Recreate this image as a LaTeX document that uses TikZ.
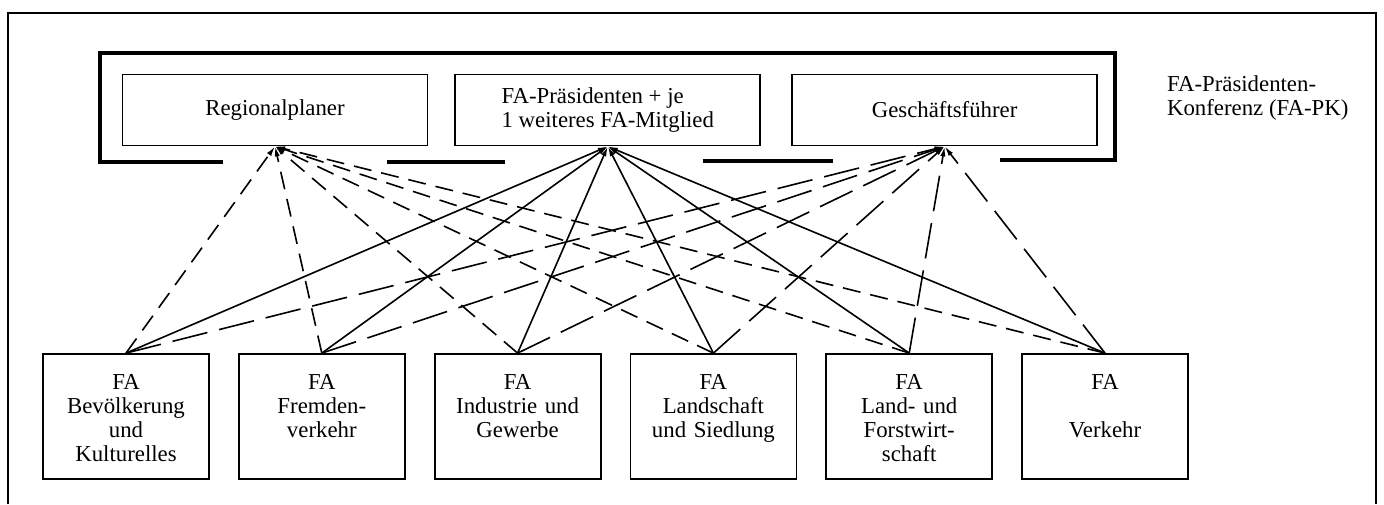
\documentclass[tikz,border=0pt]{standalone}
\usepackage{fontspec}
\setmainfont{Liberation Serif}
\usepackage{tikz}
\usetikzlibrary{positioning,arrows.meta}
\def\fagap{14pt}
\def\txt{\fontsize{11.4}{12}\selectfont}
\tikzstyle{pkbox} = [draw, line width=0.9pt, minimum width=152.5pt, minimum height=35.5pt, inner sep=0pt, align=left, font=\txt]
\tikzstyle{fabox} = [draw, line width=0.9pt, text width=83pt, align=center, inner sep=0pt, text height=17.5pt, text depth=45pt, font=\txt]
\tikzstyle{bracket} = [line width=2.2pt]
\tikzstyle{planer} = [line width=0.8pt, dash pattern=on 9pt off 5pt, -{Latex[length=5pt,width=2.6pt]}]
\tikzstyle{praes} = [line width=0.8pt, -{Latex[length=5pt,width=2.6pt]}]
\tikzstyle{gfline} = [line width=0.8pt, dash pattern=on 18pt off 6pt, -{Latex[length=5pt,width=2.6pt]}]

\begin{document}
\begin{tikzpicture}[x=0.5pt,y=-0.5pt]
        \useasboundingbox (0,0) rectangle (1384,504);
        \draw[line width=0.9pt] (8,504) -- (8,13) -- (1376,13) -- (1376,504);
        \draw[bracket] (223,162) -- (100,162) -- (100,53) -- (1115,53) -- (1115,160) -- (1000,160);
        \draw[bracket] (387,162) -- (505,162);
        \draw[bracket] (703,161) -- (833,161);

        \node[pkbox] (rp) at (275,110) {Regionalplaner};
        \node[pkbox, right=13pt of rp] (praes) {FA-Präsidenten + je\\1 weiteres FA-Mitglied};
        \node[pkbox, right=15pt of praes] (gf) {Geschäftsführer};
        \node[anchor=west, align=left, font=\txt] (pk) at (1160,98) {FA-Präsidenten-\\Konferenz (FA-PK)};

        \node[fabox] (bev) at (126,416.5) {FA\\Bevölkerung\\und\\Kulturelles};
        \node[fabox, right=\fagap of bev] (fremd) {FA\\Fremden-\\verkehr};
        \node[fabox, right=\fagap of fremd] (ind) {FA\\Industrie und\\Gewerbe};
        \node[fabox, right=\fagap of ind] (land) {FA\\Landschaft\\und Siedlung};
        \node[fabox, right=\fagap of land] (forst) {FA\\Land- und\\Forstwirt-\\schaft};
        \node[fabox, right=\fagap of forst] (verk) {FA\\[12pt]Verkehr};

        \draw[planer] (bev.north) -- (rp.south);
        \draw[planer] (fremd.north) -- (rp.south);
        \draw[planer] (ind.north) -- (rp.south);
        \draw[planer] (land.north) -- (rp.south);
        \draw[planer] (forst.north) -- (rp.south);
        \draw[planer] (verk.north) -- (rp.south);

        \draw[praes] (bev.north) -- (praes.south);
        \draw[praes] (fremd.north) -- (praes.south);
        \draw[praes] (ind.north) -- (praes.south);
        \draw[praes] (land.north) -- (praes.south);
        \draw[praes] (forst.north) -- (praes.south);
        \draw[praes] (verk.north) -- (praes.south);

        \draw[gfline] (bev.north) -- (gf.south);
        \draw[gfline] (fremd.north) -- (gf.south);
        \draw[gfline] (ind.north) -- (gf.south);
        \draw[gfline] (land.north) -- (gf.south);
        \draw[gfline] (forst.north) -- (gf.south);
        \draw[gfline] (verk.north) -- (gf.south);
\end{tikzpicture}
\end{document}
